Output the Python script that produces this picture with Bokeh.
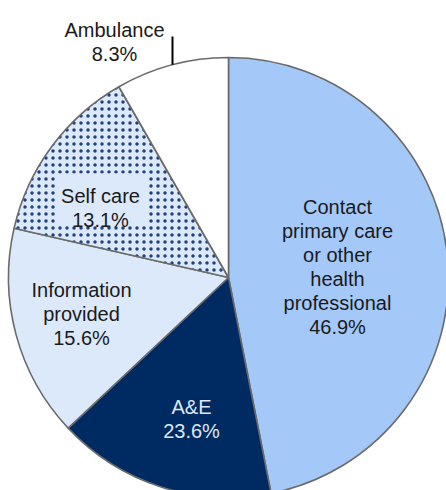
import math
from bokeh.plotting import figure
from bokeh.models import Range1d, ColumnDataSource
from bokeh.core.properties import value
from bokeh.embed import file_html
from bokeh.resources import INLINE

# ---- data ----
categories = ["Contact\nprimary care\nor other\nhealth\nprofessional", "A&E",
              "Information\nprovided", "Self care", "Ambulance"]
# slice sizes as drawn in the picture (share of the full circle, %)
slice_values = [46.9, 16.1, 15.6, 13.1, 8.3]
# percentages as printed on the labels
label_values = ["46.9%", "23.6%", "15.6%", "13.1%", "8.3%"]
colors = ["#a4c8f8", "#002a62", "#dce9fb", "#dce9fb", "#ffffff"]
hatches = [" ", " ", " ", "dot", " "]
text_colors = ["#1a1a1a", "#dfe6f5", "#1a1a1a", "#1a1a1a", "#1a1a1a"]

# ---- layout (pixel space of the figure) ----
W, H = 446, 490
CX, CY, R = 228, H - 277, 220
# label anchor (x centre, baseline of first line) in screen coords
label_pos = [(337, 206), (191, 406), (81, 289), (100, 195), (114, 29)]
LINE_H = 24

p = figure(width=W, height=H, output_backend="svg", toolbar_location=None,
           x_range=Range1d(0, W), y_range=Range1d(0, H),
           x_axis_type=None, y_axis_type=None, min_border=0)
p.grid.visible = False
p.outline_line_color = None
p.background_fill_color = "white"

total = sum(slice_values)
starts, ends = [], []
cum = 0.0
for s in slice_values:
    a0 = math.pi / 2 - 2 * math.pi * cum / total
    cum += s
    a1 = math.pi / 2 - 2 * math.pi * cum / total
    starts.append(a0)
    ends.append(a1)

src = ColumnDataSource(dict(start=starts, end=ends, color=colors, hatch=hatches,
                            x=[CX] * len(slice_values), y=[CY] * len(slice_values)))
p.wedge(x="x", y="y", radius=R, start_angle="start", end_angle="end",
        direction="clock", fill_color="color", line_color="#6a6a6a",
        line_width=1.6, hatch_pattern="hatch", hatch_color="#1f3f7f",
        hatch_scale=7, hatch_weight=1.3, source=src)

# clear box behind the self care label
p.rect(x=[101], y=[H - 198], width=[92], height=[50],
       fill_color="#dce9fb", line_color=None)

# ambulance leader line
lx = 172
ly_top = H - 36
ly_bot = CY + math.sqrt(R**2 - (lx - CX) ** 2)
p.line([lx, lx], [ly_top, ly_bot], line_color="black", line_width=2)

tx, ty, tt, tc = [], [], [], []
for cat, lab, (sx, sy), col in zip(categories, label_values, label_pos, text_colors):
    lines = cat.split("\n") + [lab]
    for i, ln in enumerate(lines):
        tx.append(sx)
        ty.append(H - (sy + i * LINE_H))
        tt.append(ln)
        tc.append(col)

p.text(x=tx, y=ty, text=tt, text_color=tc, text_align="center",
       text_baseline="alphabetic", text_font=value("Liberation Sans"),
       text_font_size="20px")

open("out.html", "w").write(file_html(p, INLINE))
